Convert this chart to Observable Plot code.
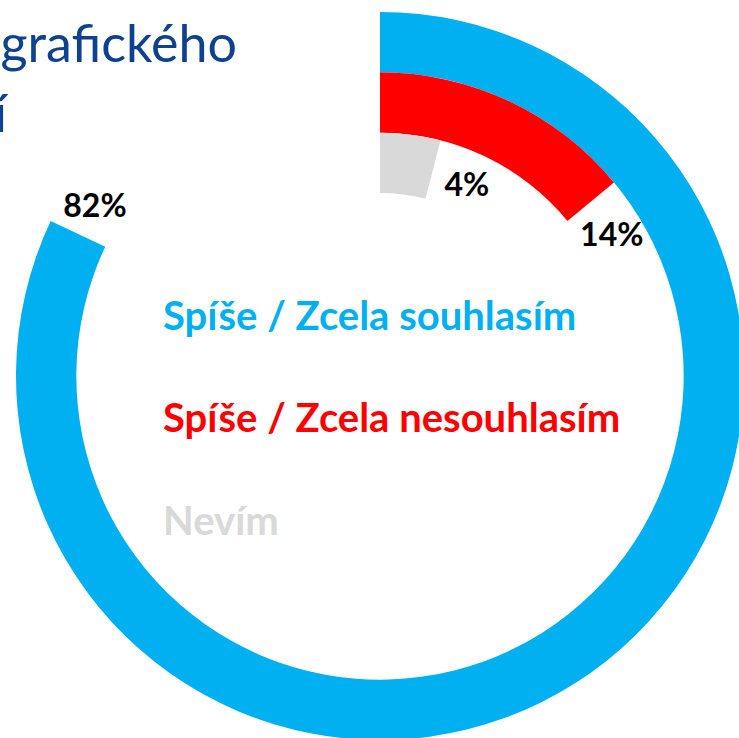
<!DOCTYPE html>
<html>
<head>
<meta charset="utf-8">
<script src="https://cdn.jsdelivr.net/npm/d3@7"></script>
<script src="https://cdn.jsdelivr.net/npm/@observablehq/plot@0.6"></script>
<style>
  html, body { margin: 0; padding: 0; background: #fff; overflow: hidden; }
  #wrap { position: relative; width: 739px; height: 738px; overflow: hidden; }
  #chart { position: absolute; left: 0; top: 0; }
  .title { position: absolute; font-family: Lato, "Open Sans", sans-serif; font-weight: 400; color: #0E418F; white-space: nowrap; text-align: right; line-height: 1; }
  #legend { position: absolute; left: 163px; top: 0; font-family: Lato, "Open Sans", sans-serif; font-weight: 700; white-space: nowrap; }
  #legend div { position: absolute; left: 0; line-height: 1; }
</style>
</head>
<body>
<div id="wrap">
  <div id="chart"></div>
  <div class="title" id="t1" style="right: 502px; top: 16px; font-size: 52px;">demografického</div>
  <div class="title" id="t2" style="right: 732px; top: 86px; font-size: 52px;">řešení</div>
  <div id="legend"></div>
</div>
<script>
// ---- data ----
const categories = ["Spíše / Zcela souhlasím", "Spíše / Zcela nesouhlasím", "Nevím"];
const values = [82, 14, 4];
const valueLabels = ["82%", "14%", "4%"];
const colors = ["#00B0F0", "#FF0000", "#D9D9D9"];

const data = categories.map((c, i) => ({cat: c, value: values[i], label: valueLabels[i]}));

// ---- layout ----
const W = 739, H = 738;
const CX = 380, CY = 376;
const R_OUT = 364, R_IN = 183;
const LABEL_GAP = 36;

function bandwidthOf(s) {
  return typeof s.bandwidth === "function" ? s.bandwidth() : (R_OUT - R_IN) / categories.length;
}

function arcRender(index, scales) {
  const bw = bandwidthOf(scales.y);
  const arc = d3.arc();
  const g = d3.create("svg:g").attr("transform", `translate(${CX},${CY})`);
  for (const i of index) {
    const d = data[i];
    const r0 = scales.y(d.cat);
    g.append("path")
      .attr("d", arc({innerRadius: r0, outerRadius: r0 + bw, startAngle: scales.x(0), endAngle: scales.x(d.value)}))
      .attr("fill", scales.color(d.cat));
  }
  return g.node();
}

function labelRender(index, scales) {
  const bw = bandwidthOf(scales.y);
  const g = d3.create("svg:g").attr("transform", `translate(${CX},${CY})`);
  for (const i of index) {
    const d = data[i];
    const r = scales.y(d.cat) + bw / 2;
    const a = scales.x(d.value) + LABEL_GAP / r;
    g.append("text")
      .attr("x", r * Math.sin(a))
      .attr("y", -r * Math.cos(a))
      .attr("dy", "0.46em")
      .attr("text-anchor", "middle")
      .attr("font-family", "Lato, 'Open Sans', sans-serif")
      .attr("font-weight", 700)
      .attr("font-size", 32)
      .attr("fill", "#000")
      .text(d.label);
  }
  return g.node();
}

const chart = Plot.plot({
  width: W,
  height: H,
  margin: 0,
  style: {background: "transparent", overflow: "visible"},
  x: {type: "linear", domain: [0, 100], range: [0, 2 * Math.PI], axis: null},
  y: {type: "band", domain: categories, range: [R_OUT, R_IN], padding: 0, round: false, axis: null},
  color: {domain: categories, range: colors},
  marks: [
    Plot.barX(data, {x: "value", y: "cat", fill: "cat", render: arcRender}),
    Plot.text(data, {x: "value", y: "cat", text: "label", render: labelRender})
  ]
});
document.getElementById("chart").appendChild(chart);

// ---- legend (HTML, in the chart's colours) ----
const legend = document.getElementById("legend");
const legendTops = [295, 397, 500];
const legendSize = 40;
categories.forEach((c, i) => {
  const el = document.createElement("div");
  el.textContent = c;
  el.style.top = legendTops[i] + "px";
  el.style.fontSize = legendSize + "px";
  el.style.color = colors[i];
  legend.appendChild(el);
});
</script>
</body>
</html>
